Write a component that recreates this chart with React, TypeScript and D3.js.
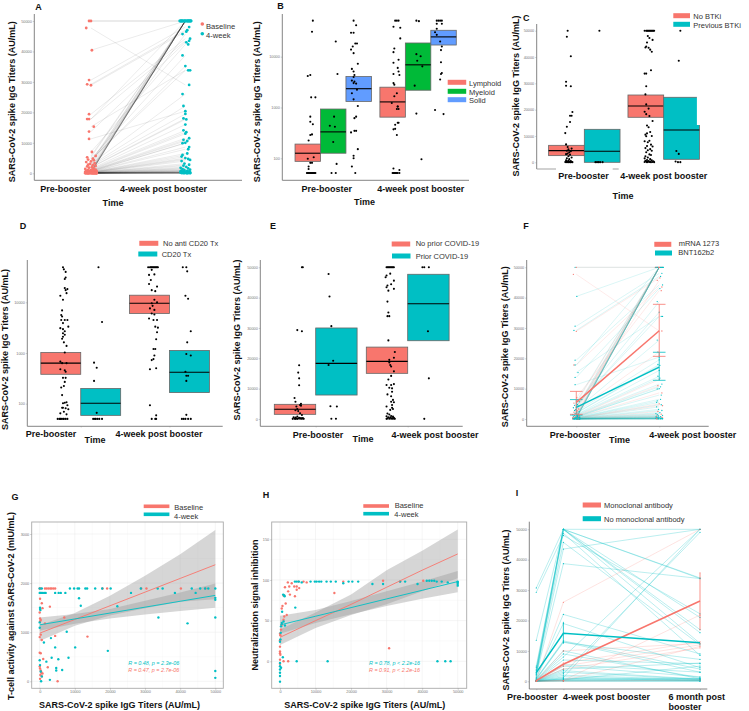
import { useEffect, useRef } from "react";
import * as d3 from "d3";

type Pt = number[];

const FONT = '"Liberation Sans", Arial, sans-serif';
const RED = "#F8766D";
const TEAL = "#00BFC4";
const GREEN = "#00BA38";
const BLUE = "#619CFF";

const linearTicks = [0, 10000, 20000, 30000, 40000, 50000];
const logTicks = [2, 3, 4];
const titerTitle = "SARS-CoV-2 spike IgG Titers (AU/mL)";
const preLabel = "Pre-booster";
const postLabel = "4-week post booster";

// subject titers, panels A and F share them (same index = same subject)
const baselineTiters = [
  50000, 50000, 47700, 40400, 30600, 29200, 28900, 19400, 17800, 17800,
  15300, 13700, 11300, 7000, 5700, 5250, 4800, 4500, 4300, 3900,
  3700, 3300, 3050, 2800, 2650, 2400, 2250, 2000, 1850, 1620,
  1410, 1300, 1190, 1080, 1010, 930, 880, 820, 770, 720,
  650, 610, 560, 510, 480, 450, 430, 400, 380, 360,
  330, 310, 290, 270, 250, 230, 210, 200, 185, 170,
  160, 150, 140, 130, 120, 110, 105, 98, 90, 85,
  78, 72, 66, 60, 58, 55, 52, 50, 50, 50,
  50, 50, 50, 50, 50, 50, 50, 50, 50, 50,
];
const week4Titers = [
  50000, 50000, 29000, 50000, 48000, 47000, 46500, 44200, 43500, 50000,
  33800, 43000, 20400, 42300, 50000, 50000, 38700, 33800, 35200, 45700,
  50000, 50000, 26000, 50000, 22100, 19500, 50000, 18000, 17700, 50000,
  16000, 14100, 50000, 13500, 50000, 13000, 11500, 50000, 11000, 10600,
  50000, 9900, 10000, 50000, 8600, 50000, 7900, 50000, 6500, 50000,
  6000, 50000, 5500, 50000, 5000, 4700, 50000, 4400, 4000, 3200,
  50000, 2800, 2500, 2100, 1800, 1600, 1400, 1200, 1000, 900,
  800, 700, 600, 500, 450, 400, 350, 300, 260, 220,
  180, 150, 120, 100, 80, 60, 50, 50, 50, 50,
];
const baselineJitter = [
  -0.02, 0, -0.05, 0.01, -0.02, -0.04, 0, -0.02, -0.04, -0.02,
  0.03, -0.02, -0.02, 0.01, 0.05, -0.04, 0.02, -0.03, 0.03, 0,
  -0.05, 0.04, -0.01, -0.03, 0.02, 0.05, -0.04, 0.01, -0.02, 0.03,
  -0.06, 0.02, 0.05, -0.03, 0, 0.04, -0.05, 0.02, -0.01, 0.06,
  -0.04, 0.03, -0.02, 0.05, -0.06, 0.01, 0.04, -0.03, 0.06, -0.01,
  0.02, -0.05, 0.05, -0.02, 0.03, -0.06, 0.01, 0.04, -0.04, 0.06,
  -0.03, 0.02, 0.05, -0.05, 0, 0.03, -0.02, 0.06, -0.04, 0.01,
  0.04, -0.06, 0.02, -0.01, 0.05, -0.03, 0.03, -0.05, 0, 0.06,
  -0.02, 0.04, -0.04, 0.02, 0.05, -0.06, 0.01, -0.03, 0.03, 0.06,
];
const week4Jitter = [
  -0.05, 0.03, 0.04, -0.03, 0.04, 0.02, 0.01, 0.05, 0.04, 0.06,
  0.03, 0.01, 0, 0.03, 0, -0.01, -0.03, 0.05, 0, -0.03,
  0.02, -0.04, -0.03, 0.05, -0.02, 0, -0.06, -0.02, 0.01, 0.01,
  0, -0.02, 0.04, 0.01, -0.02, 0, 0.04, 0.03, -0.02, 0.02,
  -0.04, -0.03, 0, 0.06, 0.04, -0.05, 0.03, 0, 0.02, 0.02,
  -0.03, -0.01, -0.04, 0.04, 0, 0.03, -0.03, 0.05, -0.04, -0.01,
  0.05, 0.04, -0.02, 0.01, -0.05, 0.03, -0.03, 0.05, -0.01, -0.04,
  0.02, -0.05, 0.04, -0.02, 0.01, -0.04, 0.05, -0.01, 0.03, -0.05,
  0.02, -0.03, 0.05, -0.01, 0.03, -0.04, 0.01, 0.05, -0.02, 0.02,
];
const vaccineBySubject = Array.from(
  "BMMBBBMBMBBBBMBMBBBMBMBBMBMBBMBBMBBMBBMBMBBBMBBMBBBMBBMBBMBBBBMBBMBBBMBBMBBBMBBBBMBBBMBBBB"
);

// panel B, log10 titers
const bBoxes = [
  [1, "Lymphoid", 1.94, 2.1, 2.28], [1, "Myeloid", 2.1, 2.52, 2.97], [1, "Solid", 3.12, 3.37, 3.61],
  [2, "Lymphoid", 2.81, 3.11, 3.4], [2, "Myeloid", 3.34, 3.84, 4.27], [2, "Solid", 4.23, 4.39, 4.52],
];
const bGroups = ["Lymphoid", "Myeloid", "Solid"];
const bPoints: Pt[] = [
  [.76,4.71],[.75,4.49],[.70,3.62],[.73,3.64],[.74,3.20],[.79,3.20],[.73,2.82],[.73,2.72],[.76,2.67],[.75,2.47],[.73,2.46],[.71,2.35],[.77,2.02],[.70,1.99],[.75,1.91],[.73,1.91],[.71,1.84],[.71,1.79],
  [.69,1.71],[.70,1.71],[.71,1.71],[.72,1.71],[.73,1.71],[.74,1.71],[.75,1.71],[.76,1.71],[.77,1.71],[.78,1.71],[.79,1.71],
  [1.03,4.30],[1.05,3.66],[1.01,2.82],[.96,2.64],[1.02,2.62],[1.0,2.32],[1.04,1.89],[.98,1.71],[1.03,1.71],
  [1.24,4.71],[1.27,4.62],[1.21,4.47],[1.24,4.47],[1.26,4.26],[1.28,4.26],[1.23,4.20],[1.21,4.14],[1.24,4.07],[1.29,3.86],[1.22,3.76],[1.24,3.71],[1.25,3.64],[1.24,3.60],[1.22,3.53],[1.25,3.51],[1.24,3.48],[1.27,3.47],[1.28,3.35],[1.22,3.28],[1.24,3.16],[1.29,3.03],[1.27,2.82],[1.25,2.79],[1.21,2.51],[1.25,2.54],[1.27,2.54],[1.29,2.18],[1.24,2.05],[1.24,2.0],[1.22,1.84],[1.26,1.71],
  [1.73,4.71],[1.75,4.71],[1.77,4.71],[1.71,4.59],[1.79,4.57],[1.79,4.36],[1.72,4.16],[1.71,4.09],[1.77,3.94],[1.71,3.88],[1.76,3.78],[1.77,3.71],[1.71,3.66],[1.78,3.64],[1.71,3.48],[1.72,3.45],[1.75,3.28],[1.72,3.22],[1.69,3.09],[1.76,3.02],[1.77,2.97],[1.75,2.97],[1.76,3.02],[1.76,2.70],[1.77,2.70],[1.73,2.66],[1.73,2.58],[1.71,2.57],[1.75,2.46],
  [1.71,1.80],[1.78,1.77],[1.70,1.71],[1.71,1.71],[1.72,1.71],[1.73,1.71],[1.74,1.71],[1.75,1.71],[1.76,1.71],[1.78,1.71],
  [1.98,4.71],[2.01,4.70],[1.98,4.05],[2.03,4.01],[1.99,3.92],[2.05,3.81],[1.96,3.43],[1.98,2.88],[2.04,1.98],
  [2.22,4.71],[2.24,4.71],[2.26,4.71],[2.28,4.71],[2.22,4.65],[2.28,4.65],[2.22,4.55],[2.20,4.48],[2.22,4.43],[2.26,4.30],[2.28,4.20],[2.27,4.13],[2.27,3.89],[2.28,3.68],[2.27,3.66],[2.26,3.55],[2.20,2.95],[2.30,2.87],
];

// panel C
const cBoxes = [
  [1, "No BTKi", 2530, 4430, 6450], [1, "Previous BTKi", 0, 4180, 12530],
  [2, "No BTKi", 17100, 21400, 25570], [2, "Previous BTKi", 1140, 12300, 24700],
];
const cGroups = ["No BTKi", "Previous BTKi"];
const cPoints: Pt[] = [
  [.79,50000],[.78,47700],[.83,40300],[.77,30600],[.77,29100],[.83,28900],[.85,19100],[.82,17700],[.84,17700],[.82,15300],[.78,13500],[.76,11100],[.77,6800],[.79,5800],[.84,5200],[.80,4900],[.78,4400],[.83,4200],[.81,3800],[.79,3300],[.77,3100],[.82,2900],[.80,2300],[.84,1800],[.78,1500],[.81,1200],[.77,800],[.80,600],[.83,500],[.79,300],[.82,250],[.78,150],[.76,100],[.81,100],[.84,100],[.79,80],[.82,60],[.77,50],[.80,50],[.83,50],[.85,50],
  [1.19,50000],[1.14,50],[1.16,50],[1.18,50],[1.20,50],[1.23,50],
  [1.76,50000],[1.78,50000],[1.79,50000],[1.80,50000],[1.81,50000],[1.82,50000],[1.83,50000],[1.84,50000],[1.85,50000],[1.86,50000],[1.87,50000],[1.88,50000],
  [1.80,48000],[1.82,47200],[1.86,46500],[1.79,45500],[1.78,44000],[1.81,43500],[1.83,42800],[1.85,42000],[1.77,43600],[1.84,35000],[1.76,33700],[1.78,33700],[1.78,28900],[1.77,25800],[1.78,22000],[1.81,20400],[1.76,19200],[1.78,18300],[1.82,17600],[1.86,15700],[1.79,14000],[1.81,13300],[1.83,11500],[1.79,11000],[1.77,10500],[1.85,10000],[1.78,9900],[1.82,8200],[1.76,8000],[1.80,7600],[1.84,6700],[1.86,6000],[1.79,6200],[1.77,5400],[1.83,5000],[1.80,4600],[1.85,4400],[1.78,3800],[1.82,3000],[1.84,2800],[1.77,2300],[1.80,1800],[1.76,1500],[1.83,1200],[1.79,900],[1.85,800],[1.77,600],[1.81,500],[1.87,400],[1.78,300],[1.83,250],[1.80,150],[1.76,100],[1.82,100],[1.86,100],[1.79,60],[1.84,50],[1.88,50],
  [2.21,50000],[2.19,38600],[2.16,4300],[2.19,3200],[2.15,300],[2.18,50],[2.21,50],
];

// panel D, log10 titers
const dBoxes = [
  [1, "No anti CD20 Tx", 2.58, 2.8, 3.01], [1, "CD20 Tx", 1.77, 2.01, 2.3],
  [2, "No anti CD20 Tx", 3.78, 3.98, 4.14], [2, "CD20 Tx", 2.22, 2.62, 3.05],
];
const dGroups = ["No anti CD20 Tx", "CD20 Tx"];
const dPoints: Pt[] = [
  [.80,4.69],[.81,4.65],[.83,4.60],[.83,4.49],[.82,4.46],[.82,4.28],[.83,4.24],[.85,4.26],[.84,4.18],[.77,4.13],[.80,4.05],[.79,3.84],[.78,3.75],[.79,3.72],[.78,3.65],[.82,3.65],[.85,3.65],[.80,3.59],[.77,3.49],[.80,3.47],[.86,3.52],[.82,3.43],[.80,3.39],[.82,3.36],[.80,3.32],[.79,3.28],[.84,3.14],[.81,3.21],[.82,3.01],[.77,2.83],[.79,2.80],[.84,2.80],[.77,2.68],[.82,2.66],[.83,2.63],[.80,2.51],[.83,2.51],[.82,2.43],[.78,2.32],[.81,2.35],[.79,2.17],[.80,2.01],[.82,2.02],[.84,2.03],[.85,1.97],[.80,1.92],[.79,1.92],[.83,1.91],[.86,1.89],[.77,1.81],[.81,1.84],[.84,1.79],
  [.74,1.70],[.76,1.70],[.77,1.70],[.78,1.70],[.80,1.70],[.81,1.70],[.83,1.70],[.85,1.70],
  [1.20,4.69],[1.24,3.61],[1.15,2.81],[1.18,2.71],[1.15,2.45],[1.18,1.82],[1.14,1.70],[1.16,1.70],[1.17,1.70],[1.19,1.70],[1.21,1.70],[1.24,1.70],
  [1.76,4.69],[1.78,4.69],[1.79,4.69],[1.80,4.69],[1.81,4.69],[1.82,4.69],[1.83,4.69],[1.84,4.69],[1.85,4.69],[1.86,4.69],[1.87,4.69],
  [1.80,4.64],[1.77,4.54],[1.83,4.55],[1.79,4.44],[1.77,4.36],[1.86,4.31],[1.80,4.24],[1.84,4.22],[1.83,4.05],[1.80,3.98],[1.86,4.0],[1.81,3.93],[1.78,3.88],[1.83,3.85],[1.80,3.78],[1.83,3.76],[1.77,3.68],[1.82,3.65],[1.86,3.65],[1.84,3.52],[1.87,3.50],[1.86,3.41],[1.85,3.27],[1.82,3.08],[1.84,3.08],[1.83,2.95],[1.80,2.86],[1.82,2.88],[1.78,2.68],[1.85,2.70],[1.78,1.97],[1.85,1.77],[1.80,1.70],[1.84,1.70],[1.85,1.70],
  [2.15,4.69],[2.19,4.69],[2.20,4.61],[2.18,4.13],[2.21,4.07],[2.24,3.43],[2.20,3.21],[2.19,2.98],[2.24,2.95],[2.18,2.63],[2.19,2.55],[2.21,2.55],[2.19,2.45],[2.19,1.78],[2.14,1.70],[2.16,1.70],[2.18,1.70],[2.21,1.70],[2.24,1.70],
];

// panel E
const eBoxes = [
  [1, "No prior COVID-19", 1540, 3190, 4840], [1, "Prior COVID-19", 7900, 18350, 30000],
  [2, "No prior COVID-19", 15050, 19000, 23700], [2, "Prior COVID-19", 25800, 38000, 47700],
];
const eGroups = ["No prior COVID-19", "Prior COVID-19"];
const ePoints: Pt[] = [
  [.85,50000],[.86,50000],[.80,29300],[.85,28900],[.82,17700],[.81,15300],[.82,13400],[.82,11100],[.77,6900],[.78,5700],[.84,5000],[.84,4400],[.83,4600],[.79,4100],[.80,3300],[.78,2900],[.81,2600],[.83,1900],[.85,1300],[.80,800],[.76,600],[.78,500],[.82,400],[.84,300],[.86,300],[.79,200],[.81,150],[.77,100],[.83,100],[.85,50],[.80,50],[.87,50],[.75,50],[.78,50],
  [1.14,47800],[1.15,40400],[1.17,30600],[1.19,19200],[1.14,17800],[1.16,4200],[1.23,4100],[1.17,100],[1.22,100],
  [1.77,50000],[1.78,50000],[1.79,50000],[1.80,50000],[1.81,50000],[1.82,50000],[1.83,50000],[1.84,50000],[1.85,50000],
  [1.81,47900],[1.77,47300],[1.76,46700],[1.85,45600],[1.82,44400],[1.78,44000],[1.77,43400],[1.85,42900],[1.79,42300],[1.78,38700],[1.79,35100],[1.78,33900],[1.80,33900],[1.79,25900],[1.86,22100],[1.85,20200],[1.80,19500],[1.80,18600],[1.81,17800],[1.82,17300],[1.85,15700],[1.82,14200],[1.79,13000],[1.85,11500],[1.77,11200],[1.82,11200],[1.80,10300],[1.83,10100],[1.83,9000],[1.78,8100],[1.82,7500],[1.84,6300],[1.82,5700],[1.85,5500],[1.83,4600],[1.77,4100],[1.83,3700],[1.81,3000],[1.84,3300],
  [1.78,1800],[1.80,1500],[1.82,1000],[1.77,900],[1.84,800],[1.79,600],[1.81,500],[1.85,400],[1.83,300],[1.78,200],[1.80,100],[1.82,60],[1.84,50],[1.86,50],[1.77,50],
  [2.16,50000],[2.18,50000],[2.23,50000],[2.22,28900],[2.23,13400],[2.18,50],
];

// panel F summaries
const fMeans = { mRNA: [5500, 29100], bnt: [3850, 17100] };
const fLow = { mRNA: [1540, 20650], bnt: [1300, 12750] };
const fHigh = { mRNA: [9100, 37800], bnt: [6400, 22000] };

// panel G
const gBaselineRow = [0, 300, 1500, 2000, 2500, 3000, 3400, 3900, 4400, 17900, 19200, 28900, 30400, 40200, 47200];
const g4WeekRow = [0, 600, 8600, 9800, 10800, 11200, 13000, 13500, 15800, 17800, 20200, 28800, 33600, 35000, 43300, 45700, 47100, 48000, 50000];
const g4WeekRow2 = [0, 200, 500, 900, 1300, 1700, 4400, 5400, 6000, 7300, 26000, 38500, 44400];
const gTeal: Pt[] = [[11200,1690],[11700,1540],[7700,1010],[100,1500],[100,1470],[33800,1300],[42100,1180],[50000,1300],[50000,1700],[50000,1660],[22100,1530],[4400,690],[10100,690],[19400,620],[8200,480],[3400,480],[5300,450],[1900,400],[4700,270],[4700,220],[6400,230],[0,430],[100,330],[300,200],[600,100],[400,0],[2900,30],[50000,210],[50000,70],[3200,880],[1200,790],[0,1200],[0,1090],[200,1450]];
const gRed: Pt[] = [[2900,1520],[1500,1180],[600,840],[4400,925],[13600,910],[7000,1300],[600,1590],[800,1490],[100,1280],[300,1250],[0,1400],[100,1680],[0,580],[300,570],[1000,455],[2300,285],[0,300],[100,260],[300,220],[500,170],[200,130],[600,100],[100,50],[400,200],[800,160],[5100,0],[0,900],[300,950],[100,1220]];
const fitX = [0, 10000, 20000, 30000, 40000, 50000];
const gRedFit = [980, 1259, 1538, 1816, 2095, 2374];
const gRedLo = [820, 1130, 1340, 1490, 1620, 1670];
const gRedHi = [1140, 1390, 1740, 2150, 2590, 3080];
const gTealFit = [1150, 1270, 1390, 1510, 1630, 1750];
const gTealLo = [1030, 1170, 1280, 1360, 1430, 1500];
const gTealHi = [1300, 1370, 1470, 1640, 1810, 1990];

// panel H
const hTealRow: Pt[] = [[4200,98],[4700,98],[5300,98],[6100,97],[8600,98],[9800,98],[10300,98],[11000,98],[11600,98],[13100,98],[14300,98],[15700,98],[17800,96],[19300,98],[20350,98],[22000,98],[26000,95],[29000,95],[33800,98],[35200,98],[38700,95],[41300,99],[42000,99],[42700,99],[43400,99],[44100,98],[45500,98],[47200,97],[50000,98]];
const hTeal: Pt[] = [[4300,66],[900,82],[1200,81],[1300,80],[600,61],[300,43],[500,47],[0,24],[1000,49],[1400,44],[0,-2],[0,-6],[0,-10],[0,-14],[0,-18],[0,-25],[300,-8],[800,5],[4700,0],[13400,0],[44300,0],[46500,0],[48000,0],[50000,93],[50000,97],[50000,95],[100,27],[200,35]];
const hRed: Pt[] = [[2200,97],[2600,92],[3300,96],[4000,92],[4700,92],[5200,98],[6600,98],[7500,97],[15300,84],[30700,16],[29000,99],[33800,98],[40300,99],[17800,98],[500,65],[700,68],[1600,71],[1000,81],[1100,81],[1400,91],[2300,86],[2800,82],[4200,80],[4700,88],[5400,90],[1900,57],[1200,55],[1000,51],[500,45],[300,39],[100,32],[0,26],[0,18],[0,12],[100,8],[0,2],[1000,0],[2300,0],[0,-3],[0,34],[0,10]];
const hRedFit = [29.5, 50, 70, 91, 112, 132];
const hRedLo = [20, 41, 57, 70, 86, 102];
const hRedHi = [39, 60, 82, 112, 136, 162];
const hTealFit = [44.7, 55.4, 66, 76.7, 87.3, 98];
const hTealLo = [34, 47, 58, 68, 77, 85];
const hTealHi = [56, 63, 74, 86, 98, 111];

// panel I, weeks since booster
const iWeeks = [0, 4.3, 26];
const noMabPre = [30700,29300,13500,5000,4500,4000,3500,3000,2800,2500,2200,2000,1500,1200,1000,800,600,500,400,400,300,300,200,200,150,100,100,100,100,50,50,50,50,50,50,50,50,50];
const noMabWk4 = [50000,48000,50000,50000,50000,45700,50000,50000,48700,43500,50000,38700,22000,19000,13300,13000,12800,10000,9000,8000,7000,5500,5000,4000,3500,3000,2500,2000,1500,1200,900,800,600,500,300,200,100,50];
const noMabMo6 = [34000,22200,50000,17000,21000,12000,16000,12500,8500,50000,33800,33800,9000,4500,4000,3000,7200,800,1200,50000,5800,3000,1500,6000,700,600,49000,500,300,50000,1000,400,200,5000,800,200,100,50];
const mabPre = [200,100,100,200,100,50,100,50];
const mabWk4 = [26000,6000,5000,4000,300,200,10000,50];
const mabMo6 = [50000,13000,12000,11000,21800,11500,12500,400];
const iMeanMab = [200, 5600, 26400];
const iMeanNoMab = [2850, 15800, 12700];

type Sel = d3.Selection<any, any, any, any>;

function label(svg: Sel, x: number, y: number, s: string, size = 9, bold = true, anchor = "middle", fill = "#111", rotate = false) {
  return svg.append("text")
    .attr("transform", rotate ? `translate(${x},${y}) rotate(-90)` : `translate(${x},${y})`)
    .attr("text-anchor", anchor)
    .attr("font-family", FONT)
    .attr("font-size", size)
    .attr("font-weight", bold ? 700 : 400)
    .attr("fill", fill)
    .text(s);
}

function yAxis(svg: Sel, y: any, x0: number, ticks: number[], fmt: (v: number) => string) {
  const g = svg.append("g").attr("transform", `translate(${x0},0)`)
    .call(d3.axisLeft(y).tickValues(ticks).tickSize(1.5).tickPadding(1).tickFormat((v: any) => fmt(+v)) as any);
  g.select(".domain").remove();
  g.selectAll("line").attr("stroke", "#888").attr("stroke-width", 0.4);
  g.selectAll("text").attr("font-size", 3.8).attr("font-family", FONT).attr("fill", "#777");
}

function xTicks(svg: Sel, x: any, y0: number, ticks: number[]) {
  const g = svg.append("g").attr("transform", `translate(0,${y0})`)
    .call(d3.axisBottom(x).tickValues(ticks).tickSize(1.2).tickFormat(() => "") as any);
  g.select(".domain").remove();
  g.selectAll("line").attr("stroke", "#888").attr("stroke-width", 0.4);
}

function axesL(svg: Sel, left: number, right: number, top: number, bottom: number) {
  const path = d3.path();
  path.moveTo(left, top);
  path.lineTo(left, bottom);
  path.lineTo(right, bottom);
  svg.append("path").attr("d", path.toString()).attr("fill", "none").attr("stroke", "#777").attr("stroke-width", 0.9);
}

// rows are [category, group, q1, median, q3]; width is one box in category units
function drawBoxes(svg: Sel, x: any, y: any, rows: any[], groups: string[], colors: string[], width: number) {
  const band = d3.scaleBand().domain(groups).range([-width * groups.length / 2, width * groups.length / 2]);
  const color = d3.scaleOrdinal<string>().domain(groups).range(colors);
  rows.forEach(([cat, g, q1, med, q3]) => {
    const x0 = x(cat + band(g)!);
    const w = x(cat + band(g)! + band.bandwidth()) - x0;
    svg.append("rect").attr("x", x0).attr("y", y(q3)).attr("width", w).attr("height", y(q1) - y(q3))
      .attr("fill", color(g)).attr("stroke", "#666").attr("stroke-width", 0.8);
    svg.append("line").attr("x1", x0).attr("x2", x0 + w).attr("y1", y(med)).attr("y2", y(med))
      .attr("stroke", "#000").attr("stroke-width", 1.1);
  });
}

function drawDots(svg: Sel, x: any, y: any, pts: Pt[], r = 1.05, fill = "#000") {
  svg.append("g").selectAll("circle").data(pts).join("circle")
    .attr("cx", (d) => x(d[0])).attr("cy", (d) => y(d[1])).attr("r", r).attr("fill", fill);
}

function swatch(svg: Sel, x: number, y: number, w: number, h: number, fill: string, s: string, tx: number, ty: number, size = 7.5) {
  svg.append("rect").attr("x", x).attr("y", y - h / 2).attr("width", w).attr("height", h).attr("fill", fill);
  label(svg, tx, ty, s, size, false, "start", "#333");
}

function errorBar(svg: Sel, x: number, y0: number, y1: number, color: string, cap: number) {
  const path = d3.path();
  path.moveTo(x, y0); path.lineTo(x, y1);
  path.moveTo(x - cap, y0); path.lineTo(x + cap, y0);
  path.moveTo(x - cap, y1); path.lineTo(x + cap, y1);
  svg.append("path").attr("d", path.toString()).attr("fill", "none").attr("stroke", color).attr("stroke-width", 0.8);
}

function regressionPanel(svg: Sel, o: any) {
  const { x, y, left, right, top, bottom, yTicks, yMinor } = o;
  [5000, 15000, 25000, 35000, 45000].forEach((v) => svg.append("line").attr("x1", x(v)).attr("x2", x(v)).attr("y1", top).attr("y2", bottom).attr("stroke", "#f3f3f3").attr("stroke-width", 0.3));
  yMinor.forEach((v: number) => svg.append("line").attr("x1", left).attr("x2", right).attr("y1", y(v)).attr("y2", y(v)).attr("stroke", "#f3f3f3").attr("stroke-width", 0.3));
  fitX.forEach((v) => svg.append("line").attr("x1", x(v)).attr("x2", x(v)).attr("y1", top).attr("y2", bottom).attr("stroke", "#ebebeb").attr("stroke-width", 0.5));
  yTicks.forEach((v: number) => svg.append("line").attr("x1", left).attr("x2", right).attr("y1", y(v)).attr("y2", y(v)).attr("stroke", "#ebebeb").attr("stroke-width", 0.5));
  const area = d3.area<number>().x((_, i) => x(fitX[i]));
  [[o.redLo, o.redHi], [o.tealLo, o.tealHi]].forEach(([lo, hi]) => {
    svg.append("path").attr("fill", "#999").attr("fill-opacity", 0.4)
      .attr("d", area.y0((_, i) => y(lo[i])).y1((_, i) => y(hi[i]))(fitX));
  });
  drawDots(svg, x, y, o.redPts, 1.2, RED);
  drawDots(svg, x, y, o.tealPts, 1.2, TEAL);
  const line = d3.line<number>().x((_, i) => x(fitX[i])).y((v) => y(v));
  svg.append("path").attr("d", line(o.redFit)).attr("fill", "none").attr("stroke", RED).attr("stroke-width", 0.9);
  svg.append("path").attr("d", line(o.tealFit)).attr("fill", "none").attr("stroke", TEAL).attr("stroke-width", 0.9);
  svg.append("rect").attr("x", left).attr("y", top).attr("width", right - left).attr("height", bottom - top)
    .attr("fill", "none").attr("stroke", "#aaa").attr("stroke-width", 0.9);
  yAxis(svg, y, left, yTicks, d3.format("d"));
  const g = svg.append("g").attr("transform", `translate(0,${bottom})`)
    .call(d3.axisBottom(x).tickValues(fitX).tickSize(1.5).tickPadding(1).tickFormat(d3.format("d")) as any);
  g.select(".domain").remove();
  g.selectAll("line").attr("stroke", "#888").attr("stroke-width", 0.4);
  g.selectAll("text").attr("font-size", 3.8).attr("font-family", FONT).attr("fill", "#777");
}

function drawChart(root: SVGSVGElement) {
  const svg: Sel = d3.select(root);
  svg.selectAll("*").remove();

  // A
  {
    const x = d3.scaleLinear().domain([0.4, 2.6]).range([34.3, 242]);
    const y = d3.scaleLinear().domain([0, 50000]).range([173.3, 21]);
    axesL(svg, 34.3, 242, 14, 180.3);
    yAxis(svg, y, 34.3, linearTicks, d3.format("d"));
    const lines = svg.append("g");
    d3.zip(baselineTiters, week4Titers).forEach(([a, b]) => {
      lines.append("line").attr("x1", x(1)).attr("x2", x(2)).attr("y1", y(a)).attr("y2", y(b))
        .attr("stroke", "#000").attr("stroke-opacity", 0.15).attr("stroke-width", 0.55);
    });
    drawDots(svg, x, y, baselineTiters.map((v, i) => [1 + baselineJitter[i], v]), 1.4, RED);
    drawDots(svg, x, y, week4Titers.map((v, i) => [2 + week4Jitter[i], v]), 1.4, TEAL);
    svg.append("circle").attr("cx", 202.3).attr("cy", 24).attr("r", 1.8).attr("fill", RED);
    svg.append("circle").attr("cx", 202.3).attr("cy", 33.7).attr("r", 1.8).attr("fill", TEAL);
    label(svg, 206, 28.5, "Baseline", 7.6, false, "start", "#333");
    label(svg, 206, 37.5, "4-week", 7.6, false, "start", "#333");
    label(svg, 38.5, 10, "A", 9);
    label(svg, 14.5, 101.7, titerTitle, 9, true, "middle", "#111", true);
    label(svg, 65.5, 192, preLabel);
    label(svg, 163.5, 192, postLabel);
    label(svg, 113, 206, "Time");
  }

  // B
  {
    const x = d3.scaleLinear().domain([0.4, 2.6]).range([282.3, 469]);
    const y = d3.scaleLinear().domain([2, 4]).range([158.3, 56.7]);
    axesL(svg, 282.3, 469, 14, 180.3);
    yAxis(svg, y, 282.3, logTicks, (v) => String(10 ** v));
    drawBoxes(svg, x, y, bBoxes, bGroups, [RED, GREEN, BLUE], 0.3);
    drawDots(svg, x, y, bPoints);
    swatch(svg, 447.7, 82.3, 18.5, 5, RED, "Lymphoid", 469, 85.5);
    swatch(svg, 447.7, 91.3, 18.5, 5, GREEN, "Myeloid", 469, 94.5);
    swatch(svg, 447.7, 99.7, 18.5, 5, BLUE, "Solid", 469, 103);
    label(svg, 280.5, 9, "B", 9);
    label(svg, 259.5, 101.7, titerTitle, 9, true, "middle", "#111", true);
    label(svg, 326.7, 191.7, preLabel);
    label(svg, 420.7, 191.7, postLabel);
    label(svg, 364.5, 205, "Time");
  }

  // C
  {
    const x = d3.scaleLinear().domain([0.4, 2.6]).range([536.7, 711.3]);
    const y = d3.scaleLinear().domain([0, 50000]).range([162.3, 30.7]);
    svg.append("line").attr("x1", 536.7).attr("x2", 536.7).attr("y1", 24).attr("y2", 169).attr("stroke", "#777").attr("stroke-width", 0.9);
    svg.append("line").attr("x1", 536.7).attr("x2", 556).attr("y1", 169).attr("y2", 169).attr("stroke", "#999").attr("stroke-width", 0.9);
    svg.append("line").attr("x1", 612.7).attr("x2", 618.7).attr("y1", 169).attr("y2", 169).attr("stroke", "#999").attr("stroke-width", 0.9);
    yAxis(svg, y, 536.7, linearTicks, d3.format("d"));
    drawBoxes(svg, x, y, cBoxes, cGroups, [RED, TEAL], 0.45);
    svg.append("rect").attr("x", 696.9).attr("y", 96).attr("width", 4).attr("height", 29).attr("fill", "#fff");
    drawDots(svg, x, y, cPoints);
    swatch(svg, 673.3, 15.7, 16.7, 5, RED, "No BTKi", 693.3, 18.5);
    swatch(svg, 673.3, 24.3, 16.7, 5, TEAL, "Previous BTKi", 693.3, 27.5);
    label(svg, 523, 21, "C", 9, true, "start");
    label(svg, 518.5, 96, titerTitle, 9, true, "middle", "#111", true);
    label(svg, 583.5, 178.5, preLabel);
    label(svg, 663.7, 178.5, postLabel);
    label(svg, 623, 199, "Time");
  }

  // D
  {
    const x = d3.scaleLinear().domain([0.4, 2.6]).range([27.5, 222.7]);
    const y = d3.scaleLinear().domain([2, 4]).range([403.7, 302.3]);
    axesL(svg, 27.3, 222.7, 260, 426.3);
    yAxis(svg, y, 27.3, logTicks, (v) => String(10 ** v));
    xTicks(svg, x, 426.3, [1, 2]);
    drawBoxes(svg, x, y, dBoxes, dGroups, [RED, TEAL], 0.45);
    drawDots(svg, x, y, dPoints);
    swatch(svg, 139.3, 243.3, 19, 5, RED, "No anti CD20 Tx", 163, 245.5);
    swatch(svg, 138.3, 254, 19, 5, TEAL, "CD20 Tx", 161.7, 256.5);
    label(svg, 23, 229, "D", 9);
    label(svg, 7.5, 349.5, titerTitle, 9, true, "middle", "#111", true);
    label(svg, 51, 437, preLabel);
    label(svg, 159, 437, postLabel);
    label(svg, 95, 443, "Time");
  }

  // E
  {
    const x = d3.scaleLinear().domain([0.4, 2.6]).range([260.5, 462.9]);
    const y = d3.scaleLinear().domain([0, 50000]).range([419, 267.3]);
    axesL(svg, 260.3, 462.7, 260, 426.3);
    yAxis(svg, y, 260.3, linearTicks, d3.format("d"));
    xTicks(svg, x, 426.3, [1, 2]);
    drawBoxes(svg, x, y, eBoxes, eGroups, [RED, TEAL], 0.45);
    drawDots(svg, x, y, ePoints);
    swatch(svg, 391.7, 244, 18.5, 5, RED, "No prior COVID-19", 415.7, 245.5);
    swatch(svg, 392, 256, 18.5, 5, TEAL, "Prior COVID-19", 415.7, 259);
    label(svg, 273, 229, "E", 9);
    label(svg, 240, 340, titerTitle, 9, true, "middle", "#111", true);
    label(svg, 318, 437.7, preLabel);
    label(svg, 435, 437.7, postLabel);
    label(svg, 363, 442, "Time");
  }

  // F
  {
    const x = d3.scaleLinear().domain([0.4, 2.6]).range([526.5, 709]);
    const y = d3.scaleLinear().domain([0, 50000]).range([419, 267.3]);
    const color = (k: string) => (k === "M" ? RED : TEAL);
    axesL(svg, 526.7, 708.7, 260, 426.3);
    yAxis(svg, y, 526.7, linearTicks, d3.format("d"));
    xTicks(svg, x, 426.3, [1, 2]);
    const lines = svg.append("g");
    d3.zip(baselineTiters, week4Titers).forEach(([a, b], i) => {
      lines.append("line").attr("x1", x(1)).attr("x2", x(2)).attr("y1", y(a)).attr("y2", y(b))
        .attr("stroke", color(vaccineBySubject[i])).attr("stroke-opacity", 0.27).attr("stroke-width", 0.55);
    });
    baselineTiters.forEach((v, i) => drawDots(svg, x, y, [[1 + baselineJitter[i] * 0.7, v]], 0.65, color(vaccineBySubject[i])));
    week4Titers.forEach((v, i) => drawDots(svg, x, y, [[2 + week4Jitter[i] * 0.8, v]], 0.65, color(vaccineBySubject[i])));
    const mean = d3.line<number>().x((_, i) => x(i + 1)).y((v) => y(v));
    [0, 1].forEach((i) => {
      errorBar(svg, x(i + 1), y(fLow.bnt[i]), y(fHigh.bnt[i]), TEAL, 6.3);
      errorBar(svg, x(i + 1), y(fLow.mRNA[i]), y(fHigh.mRNA[i]), RED, 6.3);
    });
    svg.append("path").attr("d", mean(fMeans.mRNA)).attr("fill", "none").attr("stroke", RED).attr("stroke-width", 1.5);
    svg.append("path").attr("d", mean(fMeans.bnt)).attr("fill", "none").attr("stroke", TEAL).attr("stroke-width", 1.5);
    swatch(svg, 654.3, 244.3, 17, 5, RED, "mRNA 1273", 678.7, 246);
    swatch(svg, 655, 253, 17, 5, TEAL, "BNT162b2", 678.3, 255);
    label(svg, 526, 229, "F", 9);
    label(svg, 507.5, 346.7, titerTitle, 9, true, "middle", "#111", true);
    label(svg, 575, 437.7, preLabel);
    label(svg, 692.8, 437.7, postLabel);
    label(svg, 619.5, 443, "Time");
  }

  // G
  {
    const x = d3.scaleLinear().domain([0, 50000]).range([39.7, 215.3]);
    const y = d3.scaleLinear().domain([0, 3000]).range([681.3, 534]);
    regressionPanel(svg, {
      x, y, left: 31.7, right: 223.3, top: 522, bottom: 688.3,
      yTicks: [0, 1000, 2000, 3000], yMinor: [500, 1500, 2500],
      redLo: gRedLo, redHi: gRedHi, tealLo: gTealLo, tealHi: gTealHi, redFit: gRedFit, tealFit: gTealFit,
      redPts: [...gBaselineRow.map((v) => [v, 1890]), ...gRed],
      tealPts: [...g4WeekRow.map((v) => [v, 1890]), ...g4WeekRow2.map((v) => [v, 1800]), ...gTeal],
    });
    swatch(svg, 143.7, 506.3, 25.7, 3.6, RED, "Baseline", 174.3, 509.5);
    swatch(svg, 143.7, 514.3, 25.7, 3.6, TEAL, "4-week", 174, 518.5);
    label(svg, 15, 500, "G", 9);
    label(svg, 13.5, 606, "T-cell activity against SARS-CoV-2 (mIU/mL)", 9, true, "middle", "#111", true);
    label(svg, 119.5, 708, titerTitle);
    label(svg, 128.3, 664.5, "R = 0.48, p = 2.3e-06", 5.4, false, "start", TEAL).attr("font-style", "italic");
    label(svg, 128.3, 672, "R = 0.47, p = 2.7e-06", 5.4, false, "start", RED).attr("font-style", "italic");
  }

  // H
  {
    const x = d3.scaleLinear().domain([0, 50000]).range([280, 457.7]);
    const y = d3.scaleLinear().domain([0, 150]).range([661.3, 539.3]);
    regressionPanel(svg, {
      x, y, left: 271.7, right: 466.7, top: 522, bottom: 688.3,
      yTicks: [0, 50, 100, 150], yMinor: [25, 75, 125],
      redLo: hRedLo, redHi: hRedHi, tealLo: hTealLo, tealHi: hTealHi, redFit: hRedFit, tealFit: hTealFit,
      redPts: hRed,
      tealPts: [...hTealRow, ...hTeal],
    });
    swatch(svg, 363.3, 506, 25.7, 3.6, RED, "Baseline", 394.7, 507.5);
    swatch(svg, 363.3, 513.7, 25.7, 3.6, TEAL, "4-week", 394.3, 516.5);
    label(svg, 266, 498, "H", 9);
    label(svg, 257.5, 605, "Neutralization signal inhibition", 9, true, "middle", "#111", true);
    label(svg, 364.7, 708, titerTitle);
    label(svg, 369, 664.5, "R = 0.78, p < 2.2e-16", 5.4, false, "start", TEAL).attr("font-style", "italic");
    label(svg, 369, 672, "R = 0.91, p < 2.2e-16", 5.4, false, "start", RED).attr("font-style", "italic");
  }

  // I
  {
    const x = d3.scaleLinear().domain([0, 26]).range([536.3, 700]);
    const y = d3.scaleLinear().domain([0, 50000]).range([681.3, 529.3]);
    axesL(svg, 529.3, 707.3, 521.7, 689);
    yAxis(svg, y, 529.3, linearTicks, d3.format("d"));
    xTicks(svg, x, 689, iWeeks);
    const path = d3.line<number>().x((_, i) => x(iWeeks[i])).y((v) => y(v));
    const draw = (rows: number[][], color: string, op: number) => {
      const g = svg.append("g");
      rows.forEach((r) => {
        g.append("path").attr("d", path(r)).attr("fill", "none").attr("stroke", color).attr("stroke-opacity", op).attr("stroke-width", 0.6);
        drawDots(g, x, y, r.map((v, i) => [iWeeks[i], v]), 0.6, color);
      });
    };
    draw(d3.zip(noMabPre, noMabWk4, noMabMo6), TEAL, 0.45);
    draw(d3.zip(mabPre, mabWk4, mabMo6), RED, 0.35);
    errorBar(svg, x(iWeeks[1]), y(12500), y(19400), TEAL, 0.4);
    errorBar(svg, x(iWeeks[2]), y(16900), y(35700), RED, 0.4);
    svg.append("path").attr("d", path(iMeanMab)).attr("fill", "none").attr("stroke", RED).attr("stroke-width", 1.5);
    svg.append("path").attr("d", path(iMeanNoMab)).attr("fill", "none").attr("stroke", TEAL).attr("stroke-width", 1.5);
    swatch(svg, 582.7, 505, 18.3, 5, RED, "Monoclonal antibody", 604, 507.5);
    swatch(svg, 582.7, 518.7, 18.3, 5, TEAL, "No monoclonal antibody", 604, 521.5);
    label(svg, 517, 496, "I", 9);
    label(svg, 508.5, 610, titerTitle, 9, true, "middle", "#111", true);
    label(svg, 532.3, 700, preLabel);
    label(svg, 606.5, 700, postLabel);
    label(svg, 668.5, 700, "6 month post", 9, true, "start");
    label(svg, 668.5, 710, "booster", 9, true, "start");
  }
}

export default function App() {
  const ref = useRef<SVGSVGElement>(null);

  useEffect(() => {
    if (ref.current) drawChart(ref.current);
  }, []);

  return <svg ref={ref} width={749} height={711} style={{ position: "absolute", left: 0, top: 0, background: "#fff" }} />;
}
